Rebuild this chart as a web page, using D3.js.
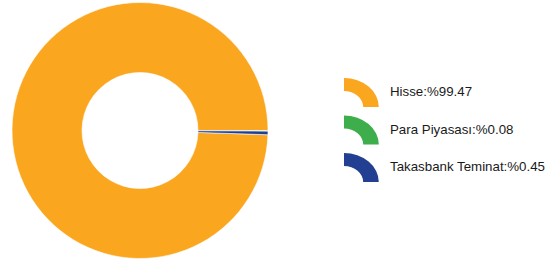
<!DOCTYPE html>
<html>
<head>
  <meta charset="utf-8">
  <script src="https://cdn.jsdelivr.net/npm/d3@7/dist/d3.min.js"></script>
  <style>
    body { margin: 0; background: #fff; overflow: hidden; }
  </style>
</head>
<body>
  <div id="chart"></div>
<script>
  // data
  const labels = ["Hisse", "Para Piyasası", "Takasbank Teminat"];
  const values = [99.47, 0.08, 0.45];
  const colors = ["#FAA61F", "#3DAE4B", "#233F91"];

  const width = 545, height = 261;
  const cx = 140, cy = 130.5, outerR = 128, innerR = 58;

  const svg = d3.select("#chart")
    .append("svg")
      .attr("width", width)
      .attr("height", height);

  const data = labels.map((l, i) => ({label: l, value: values[i], color: colors[i]}));

  // small slices start at 3 o'clock and run clockwise
  const pie = d3.pie()
    .value(d => d.value)
    .sort((a, b) => a.value - b.value)
    .startAngle(Math.PI / 2)
    .endAngle(Math.PI / 2 + 2 * Math.PI);

  const arc = d3.arc().innerRadius(innerR).outerRadius(outerR);

  svg.append("g")
      .attr("transform", "translate(" + cx + "," + cy + ")")
    .selectAll("path")
    .data(pie(data))
    .enter()
    .append("path")
      .attr("d", arc)
      .attr("fill", d => d.data.color)
      .attr("stroke", "#fff")
      .attr("stroke-width", 0.6);

  // legend with small quarter-ring icons
  const legendX = 344, legendY = 107, rowH = 37.5;
  const iconArc = d3.arc()
    .innerRadius(16).outerRadius(29)
    .startAngle(0).endAngle(Math.PI / 2);

  const legend = svg.selectAll(".legend")
    .data(data)
    .enter()
    .append("g")
      .attr("class", "legend")
      .attr("transform", (d, i) => "translate(" + legendX + "," + (legendY + i * rowH) + ")");

  legend.append("path")
      .attr("d", iconArc)
      .attr("transform", "scale(1.2,1)")
      .attr("fill", d => d.color);

  legend.append("text")
      .attr("x", 46)
      .attr("y", -15.5)
      .attr("dy", "0.35em")
      .style("font-family", "'Liberation Sans', Arial, sans-serif")
      .style("font-size", "13.3px")
      .attr("fill", "#1a1a1a")
      .text(d => d.label + ":%" + d3.format(".2f")(d.value));
</script>
</body>
</html>
